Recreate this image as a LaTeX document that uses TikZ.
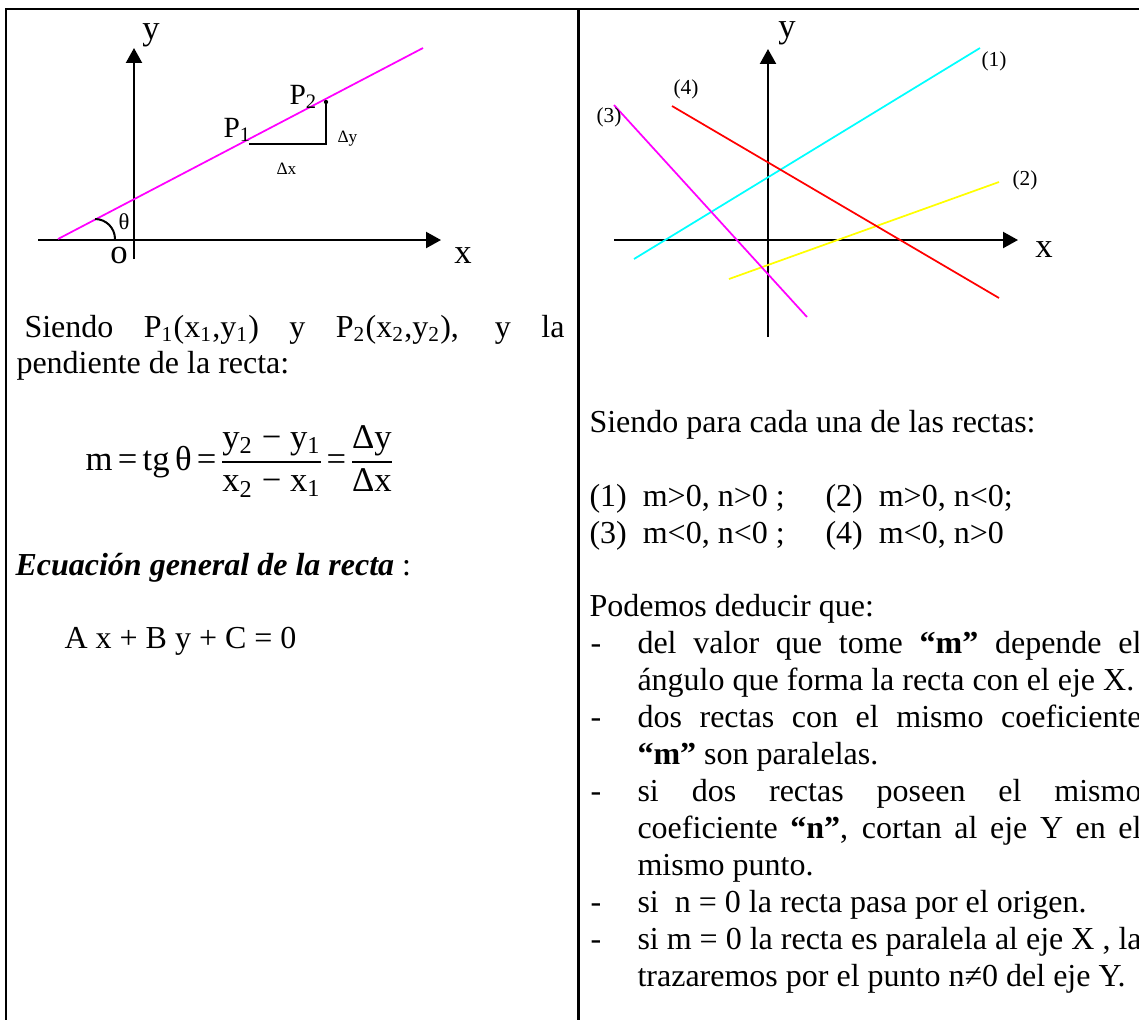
\documentclass[tikz,border=0pt]{standalone}
\usepackage{fontspec}
\setmainfont{Liberation Serif}
\usetikzlibrary{arrows.meta}

\definecolor{linecyan}{RGB}{0,255,255}
\definecolor{lineyellow}{RGB}{255,255,0}
\definecolor{linemagenta}{RGB}{255,0,255}
\definecolor{linered}{RGB}{255,0,0}

\newcommand{\subidx}[1]{\textsubscript{#1}}
\newcommand{\justline}[1]{\makebox[189pt][s]{#1}}
\newcommand{\fsp}{\hspace{2pt}}

\begin{document}
\begin{tikzpicture}[
    x=0.375pt, y=-0.375pt,
    frame/.style={line width=1pt},
    axis/.style={line width=0.75pt, -{Triangle[length=5.6pt,width=6pt]}},
    legline/.style={line width=0.75pt},
    graphline/.style={line width=0.65pt},
    body/.style={anchor=base west, inner sep=0pt, font=\fontsize{12}{14}\selectfont},
    itemdash/.style={anchor=base west, inner sep=0pt, font=\fontsize{12}{14}\selectfont},
    axlabel/.style={anchor=base, inner sep=0pt, font=\fontsize{13}{15}\selectfont},
    ptlabel/.style={anchor=base west, inner sep=0pt, font=\fontsize{11}{13}\selectfont},
    anglabel/.style={anchor=base, inner sep=0pt, font=\fontsize{8.5}{10}\selectfont},
    dlabel/.style={anchor=base west, inner sep=0pt, font=\fontsize{6.5}{8}\selectfont},
    tag/.style={anchor=base, inner sep=0pt, font=\fontsize{8}{10}\selectfont},
    formula/.style={anchor=base west, inner sep=0pt, font=\fontsize{13}{15}\selectfont}
]
\useasboundingbox (0,0) rectangle (1139,1019);

% Table frame
\draw[frame] (6,1025) -- (6,9) -- (1145,9);
\draw[frame] (578.5,9) -- (578.5,1025);

% Left graph: axes
\coordinate (lo_y0) at (134,259);
\coordinate (lo_y1) at (134,48);
\coordinate (lo_x0) at (38,240);
\coordinate (lo_x1) at (441,240);
\draw[axis] (lo_y0) -- (lo_y1);
\draw[axis] (lo_x0) -- (lo_x1);
\node[axlabel] (ly) at (151,39) {y};
\node[axlabel] (lx) at (463,263) {x};
\node[axlabel] (lorig) at (119,263) {o};

% Left graph: the line, angle and increments
\coordinate (mg0) at (58,239);
\coordinate (mg1) at (423,48);
\draw[graphline, linemagenta] (mg0) -- (mg1);
\draw[legline] (95,219) arc[start angle=90, end angle=0, radius=7.5pt];
\node[anglabel] (theta) at (124,229) {θ};
\coordinate (p1) at (249,144);
\coordinate (pc) at (326,144);
\coordinate (p2) at (326,102);
\draw[legline] (p1) -- (pc) -- (p2);
\fill (p2) circle[radius=0.8pt];
\node[ptlabel] (p1lab) at (223,137) {P\subidx{1}};
\node[ptlabel] (p2lab) at (289,104) {P\subidx{2}};
\node[dlabel] (dy) at (337,142) {Δy};
\node[dlabel] (dx) at (276,174) {Δx};

% Left column text
\node[body] (siendo) at (24,337)
    {\makebox[202.5pt][s]{Siendo P\subidx{1}(x\subidx{1},y\subidx{1}) y P\subidx{2}(x\subidx{2},y\subidx{2}), y la}};
\node[body] (pend) at (16,373) {pendiente de la recta:};
\node[formula] (slope) at (85,470)
    {m\fsp=\fsp tg\fsp θ\fsp=\hspace{1pt}$\displaystyle\frac{\mbox{y\subidx{2} − y\subidx{1}}}{\mbox{x\subidx{2} − x\subidx{1}}}$\hspace{1pt}=\hspace{1pt}$\displaystyle\frac{\mbox{Δy}}{\mbox{Δx}}$};
\node[body] (ecgen) at (15,575) {\textbf{\textit{Ecuación general de la recta}} :};
\node[body] (ecabc) at (64,648) {A x + B y + C = 0};

% Right graph: axes
\coordinate (ro_y0) at (768,337);
\coordinate (ro_y1) at (768,49);
\coordinate (ro_x0) at (614,240);
\coordinate (ro_x1) at (1018,240);
\draw[axis] (ro_y0) -- (ro_y1);
\draw[axis] (ro_x0) -- (ro_x1);
\node[axlabel] (ry) at (787,37) {y};
\node[axlabel] (rx) at (1044,257) {x};

% Right graph: the four lines
\draw[graphline, linecyan] (634,259) -- (980,48);
\draw[graphline, lineyellow] (729,279) -- (999,182);
\draw[graphline, linemagenta] (614,105) -- (807,317);
\draw[graphline, linered] (672,106) -- (999,298);
\node[tag] (t1) at (994,66) {(1)};
\node[tag] (t2) at (1025,185) {(2)};
\node[tag] (t3) at (609,122) {(3)};
\node[tag] (t4) at (686,94) {(4)};

% Right column text
\node[body] (cada) at (589,432) {Siendo para cada una de las rectas:};
\node[body] (c12) at (589,506)
    {\makebox[88.5pt][l]{(1)\hspace{6pt}m>0, n>0 ;}(2)\hspace{6pt}m>0, n<0;};
\node[body] (c34) at (589,543)
    {\makebox[88.5pt][l]{(3)\hspace{6pt}m<0, n<0 ;}(4)\hspace{6pt}m<0, n>0};
\node[body] (podemos) at (589,616) {Podemos deducir que:};

\node[itemdash] (d1) at (590,653) {-};
\node[body] (i1a) at (637,653) {\justline{del valor que tome \textbf{“m”} depende el}};
\node[body] (i1b) at (637,690) {ángulo que forma la recta con el eje X.};
\node[itemdash] (d2) at (590,727) {-};
\node[body] (i2a) at (637,727) {\justline{dos rectas con el mismo coeficiente}};
\node[body] (i2b) at (637,764) {\textbf{“m”} son paralelas.};
\node[itemdash] (d3) at (590,801) {-};
\node[body] (i3a) at (637,801) {\justline{si dos rectas poseen el mismo}};
\node[body] (i3b) at (637,838) {\justline{coeficiente \textbf{“n”}, cortan al eje Y en el}};
\node[body] (i3c) at (637,875) {mismo punto.};
\node[itemdash] (d4) at (590,912) {-};
\node[body] (i4a) at (637,912) {si~~n = 0 la recta pasa por el origen.};
\node[itemdash] (d5) at (590,949) {-};
\node[body] (i5a) at (637,949) {\justline{si m = 0 la recta es paralela al eje X , la}};
\node[body] (i5b) at (637,986) {trazaremos por el punto n≠0 del eje Y.};

\end{tikzpicture}
\end{document}
